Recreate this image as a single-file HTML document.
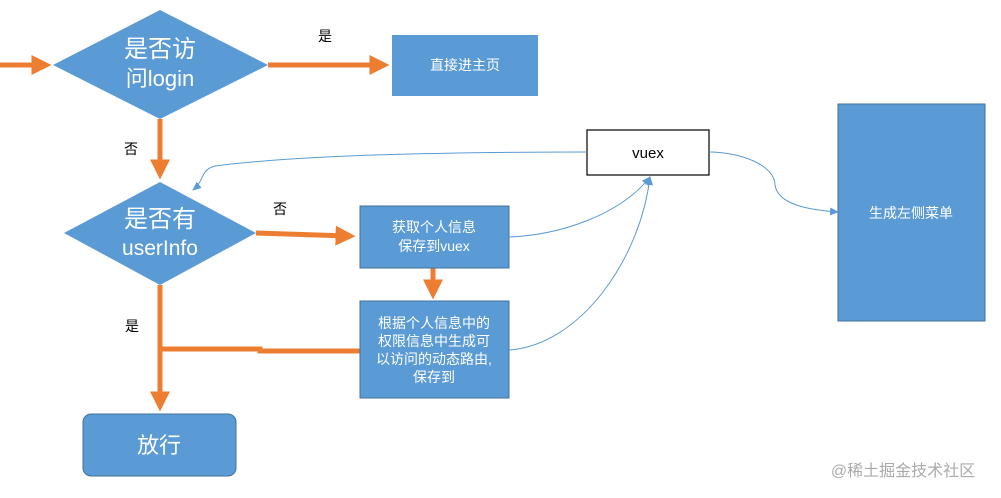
<!DOCTYPE html>
<html><head><meta charset="utf-8"><style>
body{margin:0;background:#fff;}
svg{display:block;font-family:"Liberation Sans","Noto Sans CJK SC",sans-serif;}
</style></head><body>
<svg width="1001" height="498" viewBox="0 0 1001 498" xmlns="http://www.w3.org/2000/svg">
<defs>
<marker id="oa" markerWidth="4" markerHeight="4" refX="2.5" refY="2" orient="auto" markerUnits="strokeWidth"><path d="M0,0 L4,2 L0,4 Z" fill="#ed7d31"/></marker>
<marker id="ba" markerWidth="10" markerHeight="8" refX="8" refY="4" orient="auto" markerUnits="userSpaceOnUse"><path d="M0,0 L9,4 L0,8 Z" fill="#5b9bd5"/></marker>
</defs>
<g stroke="#ed7d31" stroke-width="5" fill="none">
<line x1="0" y1="65" x2="44" y2="65" marker-end="url(#oa)"/>
<line x1="268" y1="65" x2="382" y2="65" marker-end="url(#oa)"/>
<line x1="160" y1="119" x2="160" y2="172" marker-end="url(#oa)"/>
<line x1="256" y1="233" x2="348" y2="236" marker-end="url(#oa)"/>
<line x1="433" y1="268" x2="433" y2="292" marker-end="url(#oa)"/>
<line x1="160" y1="285" x2="160" y2="404" marker-end="url(#oa)"/>
<polyline points="160,349 260,349 260,351 360,351"/>
</g>
<polygon points="53,65 160,10 268,65 160,119" fill="#5b9bd5"/>
<polygon points="64,233 160,182 256,233 160,285" fill="#5b9bd5"/>
<rect x="392" y="35" width="146" height="61" fill="#5b9bd5"/>
<rect x="360" y="206" width="149" height="62" fill="#5b9bd5" stroke="#41719c"/>
<rect x="360" y="301" width="149" height="97" fill="#5b9bd5" stroke="#41719c"/>
<rect x="83" y="414" width="153" height="62" rx="8" fill="#5b9bd5" stroke="#41719c"/>
<rect x="587" y="130" width="122" height="45" fill="#fff" stroke="#000" stroke-width="1.2"/>
<rect x="838" y="104" width="147" height="217" fill="#5b9bd5" stroke="#41719c"/>
<g stroke="#5b9bd5" stroke-width="1" fill="none">
<path d="M587,152 C450,152 300,155 215,166 C200,170 205,180 193,190" marker-end="url(#ba)"/>
<path d="M509,237 C560,235 620,215 650,177" marker-end="url(#ba)"/>
<path d="M509,350 C580,345 640,260 650,177" marker-end="url(#ba)"/>
<path d="M709,152 C740,152 775,165 775,185 C778,205 810,210 838,212" marker-end="url(#ba)"/>
</g>
<g fill="#fff" text-anchor="middle">
<text x="160" y="57" font-size="24">是否访</text>
<text x="160" y="86" font-size="22">问login</text>
<text x="160" y="227" font-size="24">是否有</text>
<text x="160" y="255" font-size="21">userInfo</text>
<text x="465" y="70" font-size="14">直接进主页</text>
<text x="434" y="232" font-size="14">获取个人信息</text>
<text x="434" y="251" font-size="14">保存到vuex</text>
<text x="434" y="328" font-size="14">根据个人信息中的</text>
<text x="434" y="346" font-size="14">权限信息中生成可</text>
<text x="434" y="364" font-size="14">以访问的动态路由,</text>
<text x="434" y="382" font-size="14">保存到</text>
<text x="159" y="453" font-size="22">放行</text>
<text x="911" y="218" font-size="14">生成左侧菜单</text>
</g>
<g fill="#000" font-size="14" text-anchor="middle">
<text x="325" y="41">是</text>
<text x="131" y="154">否</text>
<text x="280" y="214">否</text>
<text x="132" y="331">是</text>
<text x="648" y="158" font-size="15">vuex</text>
</g>
<text x="903" y="476" font-size="16" fill="#aaa" text-anchor="middle">@稀土掘金技术社区</text>
</svg>
</body></html>
